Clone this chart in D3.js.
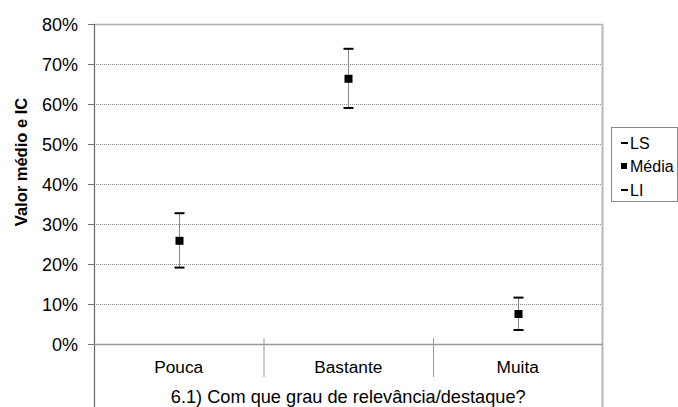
<!DOCTYPE html>
<html><head><meta charset="utf-8">
<script src="https://cdn.jsdelivr.net/npm/d3@7"></script>
<style>
body{margin:0;background:#fff;}
text{font-family:"Liberation Sans",Arial,sans-serif;fill:#000;}
</style></head>
<body><svg id="c" width="678" height="407"></svg>
<script>
const categories = ["Pouca","Bastante","Muita"];
const media = [0.258, 0.663, 0.075];
const ls = [0.327, 0.738, 0.116];
const li = [0.191, 0.590, 0.035];
const yTicks = [0,0.1,0.2,0.3,0.4,0.5,0.6,0.7,0.8];
const xTitle = "6.1) Com que grau de relevância/destaque?";
const yTitle = "Valor médio e IC";
const legendLabels = ["LS","Média","LI"];

const svg = d3.select("#c");
const L=94, R=602.5, T=24, B=344;
const x = d3.scaleBand().domain(categories).range([L,R]);
const y = d3.scaleLinear().domain([0,0.8]).range([B,T]);

// gridlines
svg.append("g").selectAll("line").data(yTicks.filter(d=>d>0&&d<0.8)).join("line")
  .attr("x1",L).attr("x2",R).attr("y1",d=>y(d)+0.5).attr("y2",d=>y(d)+0.5)
  .attr("stroke","#8a8a8a").attr("stroke-width",1).attr("stroke-dasharray","1,1");

// top & right border
svg.append("line").attr("x1",L).attr("x2",R).attr("y1",T+0.5).attr("y2",T+0.5).attr("stroke","#b0b0b0").attr("stroke-width",1.5);
svg.append("line").attr("x1",R).attr("x2",R).attr("y1",T).attr("y2",407).attr("stroke","#b8b8b8").attr("stroke-width",2);

// y axis
const ya = svg.append("g").attr("transform",`translate(${L},0)`)
  .call(d3.axisLeft(y).tickValues(yTicks).tickFormat(d3.format(".0%")).tickSize(6).tickPadding(10));
ya.select(".domain").remove();
ya.selectAll(".tick line").attr("stroke","#777");
ya.selectAll(".tick text").attr("font-size",18).attr("fill","#000").attr("dy","0.35em")
  .style("font-family","'Liberation Sans',Arial,sans-serif");
svg.append("line").attr("x1",L+0.5).attr("x2",L+0.5).attr("y1",T).attr("y2",407).attr("stroke","#666").attr("stroke-width",1.2);

// x axis
svg.append("line").attr("x1",L).attr("x2",R).attr("y1",B+0.5).attr("y2",B+0.5).attr("stroke","#999").attr("stroke-width",1.5);
svg.append("g").selectAll("line").data(categories.slice(1)).join("line")
  .attr("x1",d=>x(d)+0.5).attr("x2",d=>x(d)+0.5).attr("y1",338).attr("y2",377)
  .attr("stroke","#999").attr("stroke-width",1);
svg.append("g").selectAll("text").data(categories).join("text")
  .attr("x",d=>x(d)+x.bandwidth()/2).attr("y",373).attr("text-anchor","middle")
  .attr("font-size",17.3).text(d=>d);
svg.append("text").attr("x",(L+R)/2).attr("y",403).attr("text-anchor","middle")
  .attr("font-size",18.2).text(xTitle);
svg.append("text").attr("transform","translate(27,162) rotate(-90)").attr("text-anchor","middle")
  .attr("font-size",16.5).attr("font-weight","bold").text(yTitle);

// error bars
const g = svg.append("g");
categories.forEach((c,i)=>{
  const cx = Math.round(x(c)+x.bandwidth()/2)+0.5;
  g.append("line").attr("x1",cx).attr("x2",cx).attr("y1",y(ls[i])).attr("y2",y(li[i])).attr("stroke","#888").attr("stroke-width",1);
  [ls[i],li[i]].forEach(v=>{
    g.append("line").attr("x1",cx-5).attr("x2",cx+5).attr("y1",y(v)).attr("y2",y(v)).attr("stroke","#000").attr("stroke-width",2);
  });
  g.append("rect").attr("x",cx-4).attr("y",y(media[i])-4).attr("width",8).attr("height",8).attr("fill","#000");
});

// legend
const lg = svg.append("g");
lg.append("rect").attr("x",611.5).attr("y",127.5).attr("width",66).attr("height",74).attr("fill","#fff").attr("stroke","#888").attr("stroke-width",1);
const ly = [143,166,190];
legendLabels.forEach((t,i)=>{
  if(i===1) lg.append("rect").attr("x",621).attr("y",ly[i]-3).attr("width",6).attr("height",6).attr("fill","#000");
  else lg.append("line").attr("x1",621).attr("x2",628).attr("y1",ly[i]).attr("y2",ly[i]).attr("stroke","#000").attr("stroke-width",2);
  lg.append("text").attr("x",630).attr("y",ly[i]).attr("dy","0.35em").attr("font-size",16).text(t);
});
</script></body></html>
